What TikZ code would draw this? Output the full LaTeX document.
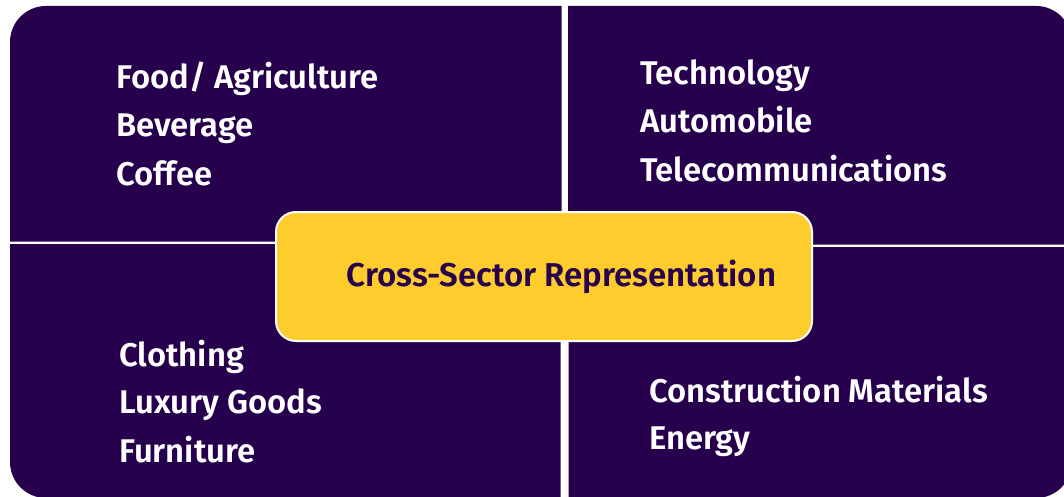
\documentclass[tikz,border=0pt]{standalone}
\usepackage{fontspec}
\setmainfont{Fira Sans}[BoldFont={Fira Sans SemiBold}]
\usepackage{xcolor}
\usepackage{tikz}
\definecolor{deeppurple}{HTML}{26004D}
\definecolor{sunyellow}{HTML}{FFCC2E}
\tikzset{
    quad/.style={fill=deeppurple},
    item/.style={anchor=base west, inner sep=0pt, text=white, font=\fontsize{32.8}{48}\selectfont\bfseries},
    hub/.style={fill=sunyellow, draw=white, line width=2pt, rounded corners=20pt,
        minimum width=536pt, minimum height=129pt, text=deeppurple,
        font=\fontsize{33}{40}\selectfont\bfseries}
}

\begin{document}
\begin{tikzpicture}[x=1pt,y=1pt]

        \useasboundingbox (0,0) rectangle (1064,496);
        \clip (0,0) rectangle (1064,496);
        \fill[white] (0,0) rectangle (1064,496);

        \fill[quad] (10,254.5) -- (10,454) arc[start angle=180, end angle=90, radius=36] -- (561.5,490) -- (561.5,254.5) -- cycle;
        \fill[quad] (568,251.5) -- (568,490) -- (1036,490) arc[start angle=90, end angle=0, radius=36] -- (1072,251.5) -- cycle;
        \fill[quad] (10,252) -- (560.5,252) -- (560.5,-2) -- (46,-2) arc[start angle=270, end angle=180, radius=36] -- cycle;
        \fill[quad] (568.5,249) -- (1072,249) -- (1072,34) arc[start angle=0, end angle=-90, radius=36] -- (568.5,-2) -- cycle;

        \node[item] (food) at (116,407) {Food/ Agriculture};
        \node[item] (beverage) at (116,359) {Beverage};
        \node[item] (coffee) at (116,311) {Coffee};

        \node[item] (tech) at (640,411) {Technology};
        \node[item] (auto) at (640,363) {Automobile};
        \node[item] (telecom) at (640,315) {Telecommunications};

        \node[item] (cloth) at (119,130) {Clothing};
        \node[item] (luxury) at (119,83) {Luxury Goods};
        \node[item] (furniture) at (119,34) {Furniture};

        \node[item] (constr) at (649,94) {Construction Materials};
        \node[item] (energy) at (649,47) {Energy};

        \node[hub] (cross) at (544,219.5) {\raisebox{-3pt}{\hspace*{35pt}Cross-Sector Representation}};

        \end{tikzpicture}
\end{document}
